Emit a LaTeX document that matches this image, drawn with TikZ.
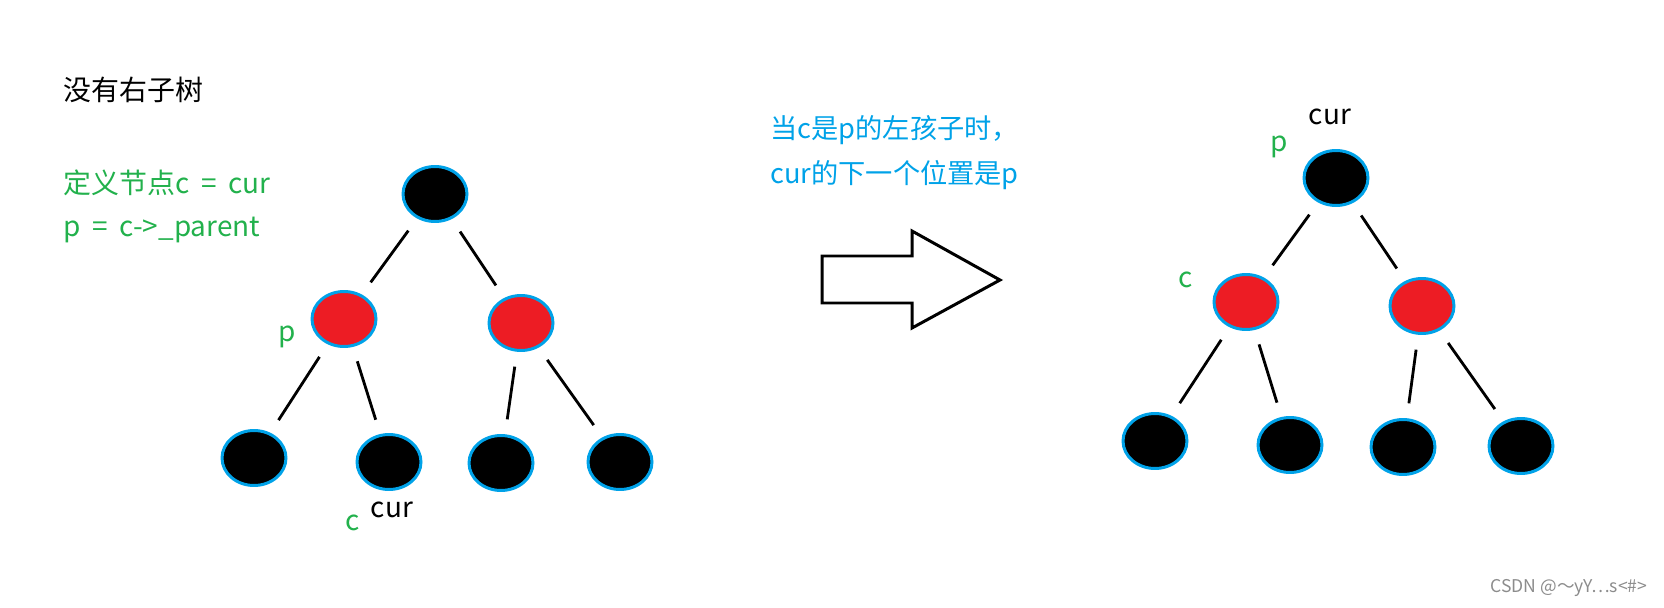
\documentclass[tikz,border=0pt]{standalone}
\usepackage{fontspec}
\setmainfont{Noto Sans CJK SC}
\usetikzlibrary{shapes.geometric}
\definecolor{paintgreen}{RGB}{34,177,76}
\definecolor{paintblue}{RGB}{0,162,232}
\definecolor{paintred}{RGB}{237,28,36}

\begin{document}
\begin{tikzpicture}[x=0.02cm, y=-0.02cm,
    tnode/.style={ellipse, draw=paintblue, line width=1.7pt, fill=black, minimum width=1.28cm, minimum height=1.1cm, inner sep=0pt},
    rnode/.style={tnode, fill=paintred},
    edge/.style={line width=1.6pt, shorten <=0.3cm, shorten >=0.3cm},
    txt/.style={inner sep=0pt, font=\fontsize{15.9}{19}\selectfont},
    note/.style={txt, anchor=west, text=paintgreen, execute at begin node={\spaceskip=0.42em\relax}}]
  \useasboundingbox (0,0) rectangle (1664,608);

  % Notes (left)
  \node[txt, anchor=west] (title) at (63,90) {没有右子树};
  \node[note] (def1) at (63,183) {定义节点c = cur};
  \node[note] (def2) at (63,230) {p = c->\_parent};

  % Tree before
  \node[tnode] (l0) at (435,194) {};
  \node[rnode] (l1) at (344,319) {};
  \node[rnode] (l2) at (521,323) {};
  \node[tnode] (l11) at (254,458) {};
  \node[tnode] (l12) at (389,462) {};
  \node[tnode] (l21) at (501,463) {};
  \node[tnode] (l22) at (620,462) {};
  \draw[edge] (l0) -- (l1);
  \draw[edge] (l0) -- (l2);
  \draw[edge] (l1) -- (l11);
  \draw[edge] (l1) -- (l12);
  \draw[edge] (l2) -- (l21);
  \draw[edge] (l2) -- (l22);
  \node[txt, text=paintgreen] (lp) at (287,337) {p};
  \node[txt] (lcur) at (392,510) {cur};
  \node[txt, text=paintgreen] (lc) at (353,523) {c};

  % Rule (middle)
  \node[txt, anchor=west, text=paintblue, font=\fontsize{15.5}{19}\selectfont] (rule1) at (770,130) {当c是p的左孩子时，};
  \node[txt, anchor=west, text=paintblue, font=\fontsize{15.5}{19}\selectfont] (rule2) at (770,175) {cur的下一个位置是p};
  \draw[line width=1.7pt, line join=miter] (822,256) -- (912,256) -- (912,231) -- (1000,280)
    -- (912,328) -- (912,303) -- (822,303) -- cycle;

  % Tree after
  \node[tnode] (r0) at (1336,178) {};
  \node[rnode] (r1) at (1246,302) {};
  \node[rnode] (r2) at (1422,306) {};
  \node[tnode] (r11) at (1155,441) {};
  \node[tnode] (r12) at (1290,445) {};
  \node[tnode] (r21) at (1403,447) {};
  \node[tnode] (r22) at (1521,446) {};
  \draw[edge] (r0) -- (r1);
  \draw[edge] (r0) -- (r2);
  \draw[edge] (r1) -- (r11);
  \draw[edge] (r1) -- (r12);
  \draw[edge] (r2) -- (r21);
  \draw[edge] (r2) -- (r22);
  \node[txt] (rcur) at (1330,117) {cur};
  \node[txt, text=paintgreen] (rp) at (1279,147) {p};
  \node[txt, text=paintgreen] (rc) at (1186,280) {c};

  % Watermark
  \node[inner sep=0pt, text=black!45, font=\fontsize{10}{12}\selectfont] (mark) at (1569,588) {CSDN @～yY⋯s<\#>};
\end{tikzpicture}
\end{document}
